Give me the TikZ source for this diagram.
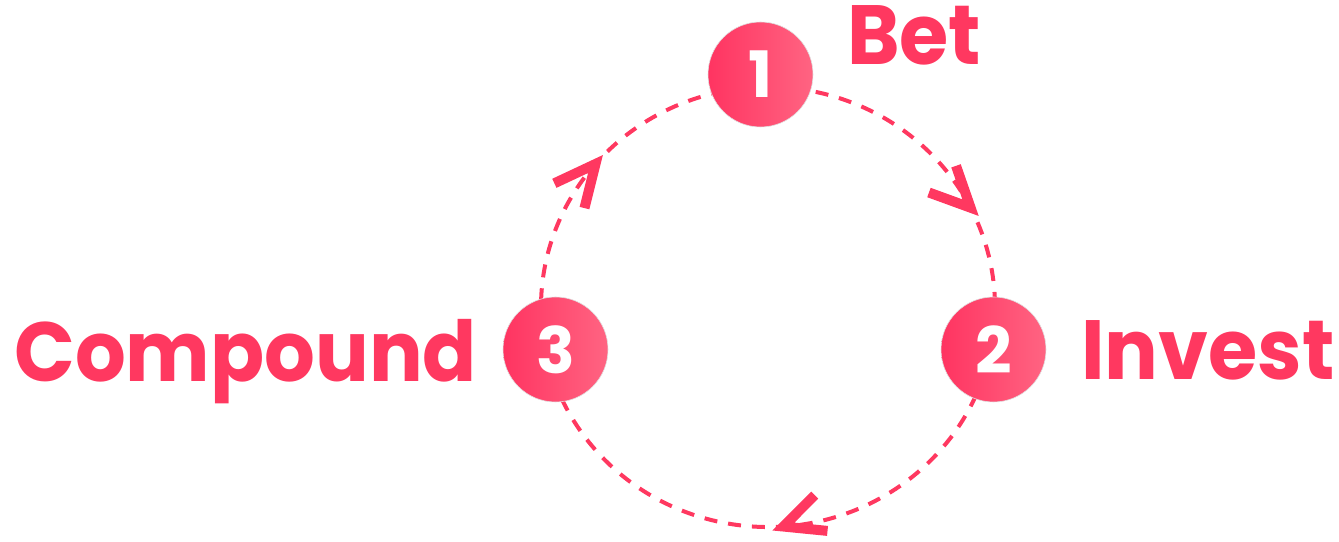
\documentclass[tikz,border=0pt]{standalone}
\usepackage{fontspec}
\setmainfont{Poppins}
\newfontfamily\labelfont{Poppins}[FakeStretch=0.95]
\usetikzlibrary{decorations.markings,calc}
\definecolor{brand}{HTML}{FF3860}
\definecolor{gradL}{HTML}{FF3461}
\definecolor{gradR}{HTML}{FF6482}
\tikzset{
 stepcircle/.style={circle, minimum size=105pt, inner sep=0pt, left color=gradL, right color=gradR, draw=black!12, line width=0.6pt, text=white, font=\fontsize{64}{64}\selectfont\bfseries},
 labeltext/.style={anchor=base west, inner sep=0pt, text=brand, font=\labelfont\fontsize{84}{84}\selectfont\bfseries},
 loopline/.style={draw=brand, line width=4pt, dash pattern=on 13pt off 11pt},
 vhead/.style={draw=brand, solid, line width=10pt, line cap=butt, line join=miter},
}
\begin{document}
\begin{tikzpicture}[x=1pt,y=1pt]
\useasboundingbox (0,0) rectangle (1339,541);
\coordinate (C) at (768,234);
% arcs (drawn first, nodes on top)
\draw[loopline, postaction={decorate}, decoration={markings, mark=at position 0.63 with {\draw[vhead, rotate=17] (-40,19) -- (0,0) -- (-40,-19);}}]
  ($(C)+(90:227 and 220)$) arc[start angle=90, end angle=-11, x radius=227, y radius=220];
\draw[loopline, postaction={decorate}, decoration={markings, mark=at position 0.475 with {\draw[vhead, rotate=16] (-40,19) -- (0,0) -- (-40,-19);}}]
  ($(C)+(-11:227 and 220)$) arc[start angle=-11, end angle=-169, x radius=227, y radius=220];
\draw[loopline, postaction={decorate}, decoration={markings, mark=at position 0.505 with {\draw[vhead, rotate=2] (-41,19.5) -- (0,0) -- (-41,-19.5);}}]
  ($(C)+(191:227 and 220)$) arc[start angle=191, end angle=90, x radius=227, y radius=220];
% step circles
\node[stepcircle] (n1) at (760.5,466.5) {1};
\node[stepcircle] (n2) at (993.5,191.5) {2};
\node[stepcircle] (n3) at (555.5,191.5) {3};
% labels
\node[labeltext] (bet) at (847,476) {Bet};
\node[labeltext] (invest) at (1081,161.7) {Invest};
\node[labeltext] (compound) at (14,159.3) {Compound};
\end{tikzpicture}
\end{document}
